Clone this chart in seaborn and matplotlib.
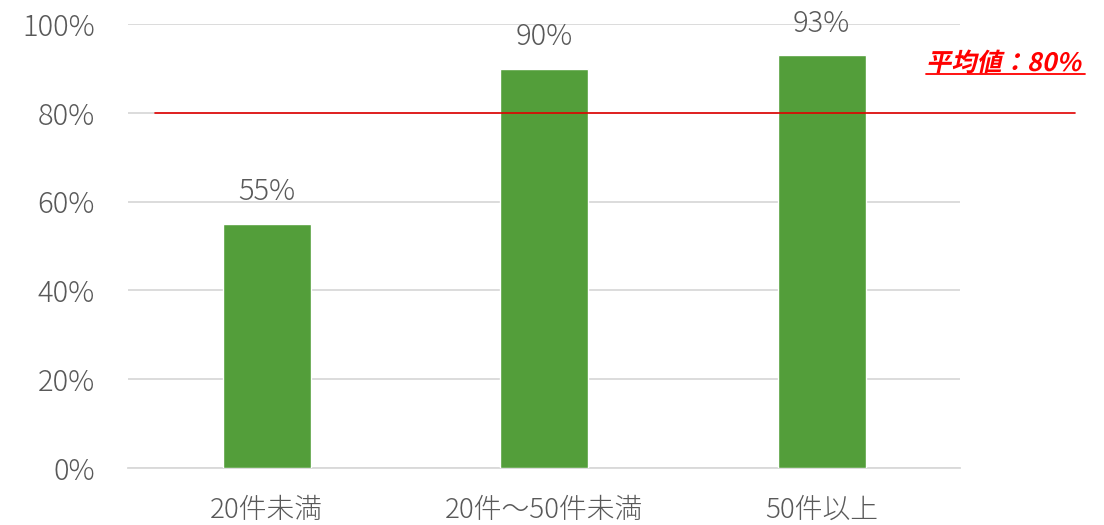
import matplotlib
matplotlib.use('Agg')
import matplotlib.pyplot as plt
import seaborn as sns
import pandas as pd
from matplotlib.textpath import TextPath
from matplotlib.font_manager import FontProperties
from matplotlib.patches import PathPatch
from matplotlib.transforms import Affine2D

# データ
categories = ['20件未満', '20件～50件未満', '50件以上']
rates = [55, 90, 93]
avg_rate = 80
avg_label = '平均値：80%'

sns.set_style('white')
plt.rcParams['font.family'] = ['Noto Sans CJK JP', 'DejaVu Sans']

df = pd.DataFrame({'cat': categories, 'rate': rates})

fig = plt.figure(figsize=(11.04, 5.25), dpi=100)
ax = fig.add_axes([0.116, 0.109, 0.754, 0.845])

sns.barplot(data=df, x='cat', y='rate', color='#539E3A', width=0.317,
            saturation=1, ax=ax, zorder=3)

ax.set_ylim(0, 100)
ax.set_xlim(-0.5, 2.5)
ax.set_yticks(range(0, 101, 20))
ax.set_yticklabels([f'{v}%' for v in range(0, 101, 20)])
ax.grid(axis='y', color='#D9D9D9', linewidth=1.3, zorder=0)
ax.set_xlabel('')
ax.set_ylabel('')
for s in ['top', 'right', 'left']:
    ax.spines[s].set_visible(False)
ax.spines['bottom'].set_color('#D9D9D9')
ax.spines['bottom'].set_linewidth(1.3)
ax.tick_params(axis='both', length=0, colors='#595959')
ax.tick_params(axis='y', labelsize=21, pad=24)
ax.tick_params(axis='x', labelsize=20, pad=20)
for lb in ax.get_xticklabels() + ax.get_yticklabels():
    lb.set_fontweight('light')

# 値ラベル
for i, v in enumerate(rates):
    ax.annotate(f'{v}%', (i, v), xytext=(0, 12), textcoords='offset points',
                ha='center', va='bottom', fontsize=21, fontweight='light',
                color='#595959')

# 平均線
ax.axhline(avg_rate, xmin=0.032, xmax=1.138, color='#E00000', linewidth=1.2,
           clip_on=False, zorder=4)

# 平均値ラベル（太字・斜体風）
fp = FontProperties(family='Noto Sans CJK JP', weight='bold')
tp = TextPath((0, 0), avg_label, size=1, prop=fp)
w = tp.get_extents().width
sc = 1.53 / w  # 幅をインチで合わせる
tr = Affine2D().scale(sc).skew_deg(12, 0).translate(9.26, 4.54) + fig.dpi_scale_trans
fig.add_artist(PathPatch(tp, transform=tr, color='#FF0000', lw=0))
# 下線
ax.plot([0.958, 1.150], [0.888, 0.888], transform=ax.transAxes, color='#FF0000',
        linewidth=1.3, clip_on=False)

fig.savefig('out.png', dpi=100)
